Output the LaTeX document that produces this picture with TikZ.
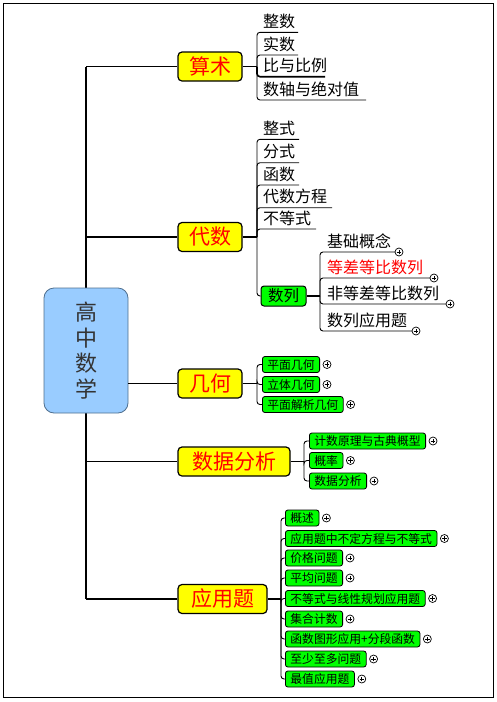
\documentclass[tikz,border=0pt]{standalone}
\usepackage{fontspec}
\newfontfamily\cjk{Noto Sans CJK SC}
\usetikzlibrary{calc}
\definecolor{ylw}{HTML}{FFFF00}
\definecolor{grn}{HTML}{00FF00}
\definecolor{cblue}{HTML}{99CCFF}
\definecolor{cbord}{HTML}{4F6F8F}
\definecolor{ctext}{HTML}{333333}
\begin{document}
\begin{tikzpicture}[x=1pt,y=-1pt,
  main/.style={draw=black, line width=1.2pt, fill=ylw, rounded corners=4pt, text=red,
    font=\cjk\fontsize{21}{21}\selectfont, minimum height=29pt, inner sep=0pt,
    text height=17.4pt, text depth=1.5pt},
  seqbox/.style={draw=black, line width=1pt, fill=grn, rounded corners=3pt,
    font=\cjk\fontsize{15.5}{15.5}\selectfont, minimum width=45pt, minimum height=20pt,
    inner sep=0pt, text height=12.9pt, text depth=1.1pt},
  leaf/.style={anchor=south west, inner sep=0pt, text height=13pt, text depth=0pt,
    font=\cjk\fontsize{16}{16}\selectfont},
  gbox/.style={draw=black, line width=0.8pt, fill=grn, rounded corners=2.5pt, anchor=west,
    minimum height=16pt, inner xsep=5pt, inner ysep=0pt, text height=9.8pt, text depth=0.8pt,
    font=\cjk\fontsize{11.8}{11.8}\selectfont},
  plus/.style={circle, draw=black, fill=white, line width=0.7pt, minimum size=8pt, inner sep=0pt,
    path picture={\draw[line width=0.7pt]
      ([xshift=-2.3pt]path picture bounding box.center) -- ([xshift=2.3pt]path picture bounding box.center)
      ([yshift=-2.3pt]path picture bounding box.center) -- ([yshift=2.3pt]path picture bounding box.center);}},
  conn/.style={line width=1.5pt, draw=black},
  trunk/.style={line width=2pt, draw=black},
  br/.style={line width=0.9pt, draw=black, rounded corners=3pt},
]
\useasboundingbox (0,0) rectangle (496,702);
\draw[line width=1pt] (3,3) rectangle (493,697);

% main nodes
\node[main, minimum width=64pt] (suan) at (210,66.5) {算术};
\node[main, minimum width=64pt] (dai) at (210,237) {代数};
\node[main, minimum width=64pt] (ji) at (210,383.5) {几何};
\node[main, minimum width=112pt] (shu) at (234,461.5) {数据分析};
\node[main, minimum width=89pt] (ying) at (222.5,599) {应用题};

% trunk
\coordinate (t1) at (86,66.5);
\coordinate (t2) at (86,237);
\coordinate (t4) at (86,461.5);
\coordinate (t5) at (86,599);
\draw[trunk] (t1) -- (t5);
\draw[conn] (t1) -- (suan.west);
\draw[conn] (t2) -- (dai.west);
\draw[conn] (t4) -- (shu.west);
\draw[conn] (t5) -- (ying.west);

% root
\node[draw=cbord, fill=cblue, line width=0.8pt, rounded corners=10pt, minimum width=84pt,
  minimum height=125pt, align=center, text=ctext,
  font=\cjk\fontsize{22}{25.5}\selectfont] (root) at (86,350.5) {高\\中\\数\\学};
\draw[conn] (root.east |- ji.west) -- (ji.west);

% ---- 算术 children
\coordinate (sj) at (257,66.5);
\draw[conn] (suan.east) -- (sj);
\node[leaf] (a1) at (263,27.5) {整数};
\node[leaf] (a2) at (263,50.2) {实数};
\node[leaf] (a3) at (263,71.9) {比与比例};
\node[leaf] (a4) at (263,95.2) {数轴与绝对值};
\coordinate (ua1) at (298,32.3);
\coordinate (ua2) at (298,55);
\coordinate (ua3) at (325,76.7);
\coordinate (ua4) at (366,100);
\draw[br] (sj) |- (ua1);
\draw[br] (sj) |- (ua2);
\draw[br, line width=1.6pt] (sj) |- (ua3);
\draw[br] (sj) |- (ua4);

% ---- 代数 children
\coordinate (dj) at (257,237);
\draw[conn] (dai.east) -- (dj);
\node[leaf] (b1) at (263,134.5) {整式};
\node[leaf] (b2) at (263,157.9) {分式};
\node[leaf] (b3) at (263,180.2) {函数};
\node[leaf] (b4) at (263,202.9) {代数方程};
\node[leaf] (b5) at (263,224.2) {不等式};
\coordinate (ub1) at (299,139.3);
\coordinate (ub2) at (299,162.7);
\coordinate (ub3) at (299,185);
\coordinate (ub4) at (332,207.7);
\coordinate (ub5) at (316,229);
\foreach \u in {ub1,ub2,ub3,ub4,ub5} \draw[br] (dj) |- (\u);
\node[seqbox] (sl) at (283.5,296) {数列};
\draw[br] (dj) |- (sl.west);

% ---- 数列 children
\coordinate (qj) at (320,296);
\draw[conn] (sl.east) -- (qj);
\node[leaf] (c1) at (327,247.2) {基础概念};
\node[leaf, text=red] (c2) at (327,273.2) {等差等比数列};
\node[leaf] (c3) at (327,299.2) {非等差等比数列};
\node[leaf] (c4) at (327,326.2) {数列应用题};
\coordinate (uc1) at (395,252);
\coordinate (uc2) at (430,278);
\coordinate (uc3) at (446,304);
\coordinate (uc4) at (412,331);
\foreach \u in {uc1,uc2,uc3,uc4} {
  \draw[br] (qj) |- (\u);
  \node[plus] at ($(\u)+(4,0)$) {};
}

% ---- 几何 children
\coordinate (gj) at (257,383.5);
\draw[conn] (ji.east) -- (gj);
\node[gbox] (g1) at (262,364.5) {平面几何};
\node[gbox] (g2) at (262,384.5) {立体几何};
\node[gbox] (g3) at (262,404.5) {平面解析几何};

% ---- 数据分析 children
\coordinate (hj) at (304,461.5);
\draw[conn] (shu.east) -- (hj);
\node[gbox] (h1) at (309,441) {计数原理与古典概型};
\node[gbox] (h2) at (309,460.5) {概率};
\node[gbox] (h3) at (309,481) {数据分析};

% ---- 应用题 children
\coordinate (yj) at (281,599);
\draw[conn] (ying.east) -- (yj);
\node[gbox] (y1) at (285,518) {概述};
\node[gbox] (y2) at (285,538.5) {应用题中不定方程与不等式};
\node[gbox] (y3) at (285,558) {价格问题};
\node[gbox] (y4) at (285,578) {平均问题};
\node[gbox] (y5) at (285,598.5) {不等式与线性规划应用题};
\node[gbox] (y6) at (285,619) {集合计数};
\node[gbox] (y7) at (285,639) {函数图形应用+分段函数};
\node[gbox] (y8) at (285,659) {至少至多问题};
\node[gbox] (y9) at (285,679) {最值应用题};

\foreach \n in {g1,g2,g3} {
  \draw[br] (gj) |- (\n.west);
  \node[plus] at ($(\n.east)+(7,0)$) {};
}
\foreach \n in {h1,h2,h3} {
  \draw[br] (hj) |- (\n.west);
  \node[plus] at ($(\n.east)+(7,0)$) {};
}
\foreach \n in {y1,y2,y3,y4,y5,y6,y7,y8,y9} {
  \draw[br] (yj) |- (\n.west);
  \node[plus] at ($(\n.east)+(7,0)$) {};
}
\end{tikzpicture}
\end{document}
